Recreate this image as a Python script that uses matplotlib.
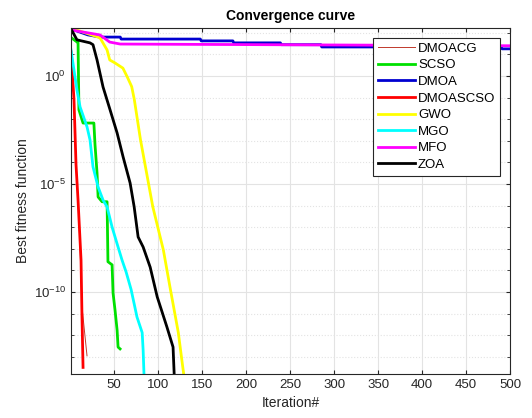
import matplotlib
matplotlib.use("Agg")
import matplotlib.pyplot as plt
from matplotlib.ticker import FixedLocator, LogFormatterSciNotation, NullFormatter
import numpy as np

plt.rcParams['font.family'] = ['Liberation Sans', 'DejaVu Sans']
plt.rcParams['mathtext.fontset'] = 'custom'
plt.rcParams['mathtext.rm'] = 'Liberation Sans'

# best fitness per iteration (breakpoints only)
dmoacg_it = [1, 4.4, 6.7, 9, 11, 13.5, 19.2]
dmoacg_val = [13, 7.9e-2, 7.9e-5, 1.8e-6, 2.5e-8, 2e-11, 1.1e-13]

scsco_it = [1, 8, 9, 10, 14.7, 27, 28.3, 30.6, 31.8, 36.3, 42, 43, 47.7, 48.8, 51, 53.4, 54.5, 56.8]
scsco_val = [60, 37, 37, 2.7e-2, 6.6e-3, 6.6e-3, 6.5e-4, 3.2e-5, 2.5e-6, 1.5e-6, 1.5e-6,
             2.5e-9, 1.8e-9, 8.9e-11, 1.5e-11, 1.7e-12, 2.8e-13, 2.3e-13]

dmoa_it = [1, 20, 34, 57, 58, 148, 149, 185, 186, 239, 240, 285, 286, 490, 491, 500]
dmoa_val = [150, 80, 63, 63, 51, 51, 42, 42, 34, 34, 28, 28, 22, 22, 18, 18]

dmoascso_it = [1, 4.4, 6.7, 9, 12.4, 13.5, 14.7]
dmoascso_val = [13, 7.9e-2, 7.9e-5, 1.8e-6, 3.0e-9, 6.9e-12, 3.2e-14]

gwo_it = [1, 11, 28, 34, 42, 45, 51, 60, 65, 70, 73, 80, 94, 106, 114, 123, 127, 133]
gwo_val = [160, 120, 71, 58, 16, 5.5, 4.0, 2.3, 0.89, 0.32, 7.9e-2, 1.1e-3, 8.7e-7,
           8.7e-9, 1.3e-10, 1.3e-12, 7e-14, 1e-15]

mgo_it = [1, 7.8, 11.3, 19.2, 22.6, 26, 31.8, 37.4, 42, 47.7, 54.5, 59, 63.6, 69.3, 76, 81.9, 83, 85]
mgo_val = [16, 0.22, 3.7e-2, 4.4e-3, 1.1e-3, 6.2e-5, 7.2e-6, 1.8e-6, 8.7e-7, 1.0e-7, 1.2e-8,
           3.0e-9, 8.5e-10, 1.3e-10, 6.9e-12, 1.3e-12, 2.0e-13, 1e-15]

mfo_it = [1, 34, 45, 57, 500]
mfo_val = [135, 79, 37, 30, 25]

zoa_it = [1, 7.8, 22.6, 26, 30.6, 37.4, 45.4, 53.4, 60.2, 68.2, 72.8, 77.3, 83, 91, 99, 110, 117, 119.5]
zoa_val = [150, 47, 34, 28, 5.5, 0.31, 2.7e-2, 2.3e-3, 1.8e-4, 1.1e-5, 8.7e-7, 3.5e-8,
           1.2e-8, 1.4e-9, 5.9e-11, 2.4e-12, 2.8e-13, 1e-15]

names = ['DMOACG', 'SCSO', 'DMOA', 'DMOASCSO', 'GWO', 'MGO', 'MFO', 'ZOA']

fig = plt.figure(figsize=(5.32, 4.18), dpi=100)
ax = fig.add_axes([71/532, 1 - 374/418, 439/532, 346/418])

ax.semilogy(dmoacg_it, dmoacg_val, color='#c0392b', lw=0.7, label=names[0])
ax.semilogy(scsco_it, scsco_val, color='#00e000', lw=2, label=names[1])
ax.semilogy(dmoa_it, dmoa_val, color='#0000d0', lw=2, label=names[2])
ax.semilogy(dmoascso_it, dmoascso_val, color='#ff0000', lw=2, label=names[3])
ax.semilogy(gwo_it, gwo_val, color='#ffff00', lw=2, label=names[4])
ax.semilogy(mgo_it, mgo_val, color='#00ffff', lw=2, label=names[5])
ax.semilogy(mfo_it, mfo_val, color='#ff00ff', lw=2, label=names[6])
ax.semilogy(zoa_it, zoa_val, color='#000000', lw=2, label=names[7])

ax.set_xlim(1, 500)
ax.set_ylim(10**-13.8, 10**2.22)
ax.set_xticks(np.arange(50, 501, 50))
ax.yaxis.set_major_locator(FixedLocator([1e-10, 1e-5, 1e0]))
ax.yaxis.set_major_formatter(LogFormatterSciNotation())
ax.yaxis.set_minor_locator(FixedLocator([10.0**k for k in range(-13, 3) if k % 5 != 0]))
ax.yaxis.set_minor_formatter(NullFormatter())

ax.grid(True, which='major', color='#e3e3e3', lw=0.8, ls='-')
ax.grid(True, which='minor', axis='y', color='#e3e3e3', lw=0.8, ls=':')
ax.set_axisbelow(True)
ax.tick_params(which='both', direction='in', top=True, right=True, colors='#262626',
               labelsize=9.5, length=3)
ax.tick_params(which='minor', length=2)
for s in ax.spines.values():
    s.set_color('#262626')
    s.set_linewidth(0.8)

ax.set_title('Convergence curve', fontsize=10, fontweight='bold', pad=6)
ax.set_xlabel('Iteration#', fontsize=10, color='#262626', labelpad=4)
ax.set_ylabel('Best fitness function', fontsize=10, color='#262626', labelpad=3)

leg = ax.legend(loc='upper right', bbox_to_anchor=(1 - 10/439, 1 - 10/346), borderaxespad=0,
                fontsize=9.5, handlelength=2.8, labelspacing=0.33, handletextpad=0.25,
                borderpad=0.35, fancybox=False, framealpha=1, edgecolor='#262626')
leg.get_frame().set_linewidth(0.8)

fig.savefig('out.png', dpi=100)
